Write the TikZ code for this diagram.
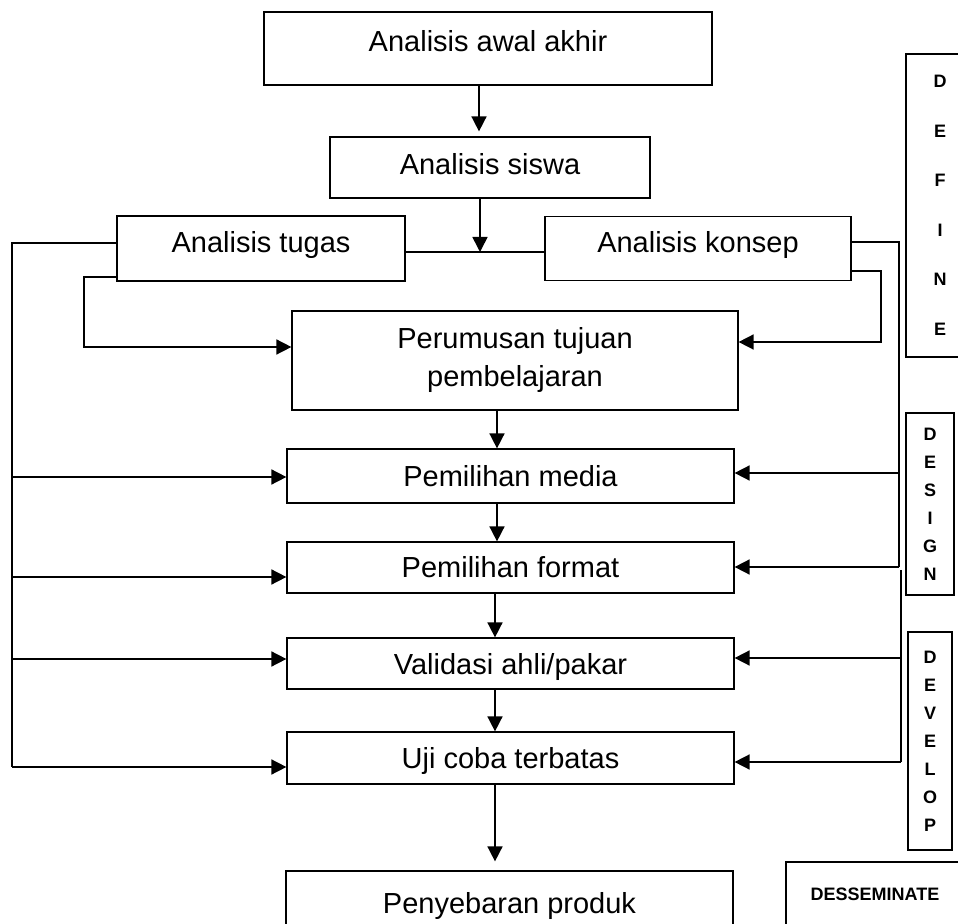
\documentclass[tikz,border=0pt]{standalone}
\usepackage{fontspec}
\setmainfont{Liberation Sans}
\usetikzlibrary{arrows.meta}

\begin{document}
\begin{tikzpicture}[x=0.5pt, y=-0.5pt,
    boxbase/.style={draw, line width=0.6pt, inner sep=0pt, font=\fontsize{14.5}{19}\selectfont},
    procbox/.style={boxbase, text height=10.5pt, text depth=0pt},
    phasebox/.style={draw, line width=0.6pt, inner sep=0pt, align=center},
    wire/.style={line width=0.8pt},
    flow/.style={line width=0.8pt, -{Triangle[length=7.5pt, width=7.5pt]}}]
    % Frame
    \clip (0,0) rectangle (958,924);

    % Process boxes
    \node[procbox, minimum width=224pt, minimum height=36.5pt, text depth=7pt] (awal) at (488,48.5) {Analisis awal akhir};
    \node[procbox, minimum width=160pt, minimum height=30.5pt, text depth=3pt] (siswa) at (490,167.5) {Analisis siswa};
    \node[procbox, minimum width=144pt, minimum height=32.5pt, text depth=6pt] (tugas) at (261,248.5) {Analisis tugas};
    \node[procbox, minimum width=153pt, minimum height=32pt, text depth=6pt] (konsep) at (698,248.5) {Analisis konsep};
    \node[boxbase, align=center, minimum width=223pt, minimum height=49.5pt] (perumusan) at (515,360.5) {Perumusan tujuan\\pembelajaran};
    \node[procbox, minimum width=223.5pt, minimum height=27pt] (media) at (510.5,476) {Pemilihan media};
    \node[procbox, minimum width=223.5pt, minimum height=25.5pt] (format) at (510.5,567.5) {Pemilihan format};
    \node[procbox, minimum width=223.5pt, minimum height=25.5pt] (validasi) at (510.5,663.5) {Validasi ahli/pakar};
    \node[procbox, minimum width=223.5pt, minimum height=26pt] (uji) at (510.5,758) {Uji coba terbatas};
    \node[procbox, minimum width=223.5pt, minimum height=32pt] (penyebaran) at (509.5,903) {Penyebaran produk};

    % Phase labels
    \node[phasebox, minimum width=34pt, minimum height=151.5pt, font=\bfseries\fontsize{9}{24.75}\selectfont] (define) at (940,205.5) {D\\E\\F\\I\\N\\E};
    \node[phasebox, minimum width=24pt, minimum height=91pt, font=\bfseries\fontsize{9}{14}\selectfont] (design) at (930,504) {D\\E\\S\\I\\G\\N};
    \node[phasebox, minimum width=22pt, minimum height=109pt, font=\bfseries\fontsize{9}{14}\selectfont] (develop) at (930,741) {D\\E\\V\\E\\L\\O\\P};
    \node[phasebox, minimum width=89pt, minimum height=39pt, font=\bfseries\fontsize{9}{11}\selectfont, text height=6.5pt, text depth=7pt] (dissem) at (875,901) {DESSEMINATE};

    % Main flow
    \draw[flow, shorten >=2.5pt] (479,0 |- awal.south) -- (479,0 |- siswa.north);
    \coordinate (jn) at (480,252);
    \draw[wire] (tugas.east |- jn) -- (konsep.west |- jn);
    \draw[flow] (480,0 |- siswa.south) -- (jn);
    \foreach \a/\b/\x in {perumusan/media/497, media/format/497, format/validasi/495, validasi/uji/495}
        \draw[flow] (\x,0 |- \a.south) -- (\x,0 |- \b.north);
    \draw[flow, shorten >=4.5pt] (495,0 |- uji.south) -- (495,0 |- penyebaran.north);

    % Left feedback lines
    \coordinate (ltop) at (12,243);
    \coordinate (lbot) at (12,767);
    \draw[wire] (tugas.west |- ltop) -- (ltop) -- (lbot);
    \foreach \n/\y in {media/477, format/577, validasi/659, uji/767}
        \draw[flow] (ltop |- 0,\y) -- (\n.west |- 0,\y);
    \coordinate (lmid) at (84,277);
    \draw[flow] (tugas.west |- lmid) -- (lmid) |- (perumusan.west |- 0,347);

    % Right feedback lines
    \coordinate (rtop) at (899,242);
    \draw[wire] (konsep.east |- rtop) -- (rtop) -- (899,567);
    \foreach \n/\y in {media/473, format/567}
        \draw[flow] (rtop |- 0,\y) -- (\n.east |- 0,\y);
    \coordinate (rmid) at (881,271);
    \draw[flow] (konsep.east |- rmid) -- (rmid) |- (perumusan.east |- 0,342);
    \coordinate (rbot) at (901,570);
    \draw[wire] (rbot) -- (901,762);
    \foreach \n/\y in {validasi/658, uji/762}
        \draw[flow] (rbot |- 0,\y) -- (\n.east |- 0,\y);
\end{tikzpicture}
\end{document}
